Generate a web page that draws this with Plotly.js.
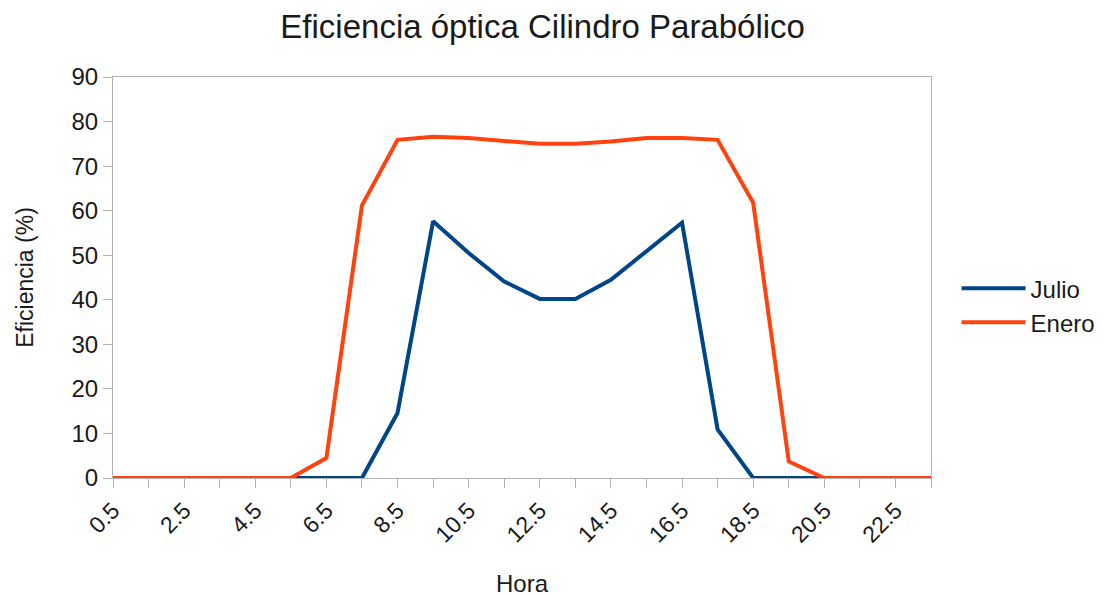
<!DOCTYPE html>
<html>
<head>
<meta charset="utf-8">
<script src="https://cdn.plot.ly/plotly-3.0.1.min.js"></script>
<style>html,body{margin:0;padding:0;background:#fff;}#chart{width:1112px;height:597px;}</style>
</head>
<body>
<div id="chart"></div>
<script>
const hours = ['0.5','1.5','2.5','3.5','4.5','5.5','6.5','7.5','8.5','9.5','10.5','11.5','12.5','13.5','14.5','15.5','16.5','17.5','18.5','19.5','20.5','21.5','22.5','23.5'];
const julio = [0,0,0,0,0,0,0,0,14.6,57.6,50.5,44.1,40.2,40.2,44.5,50.9,57.3,10.9,0,0,0,0,0,0];
const enero = [0,0,0,0,0,0,4.5,61.2,75.9,76.6,76.3,75.7,75.0,75.0,75.5,76.3,76.3,75.9,61.8,3.7,0,0,0,0];
const tickLabels = ['0.5','','2.5','','4.5','','6.5','','8.5','','10.5','','12.5','','14.5','','16.5','','18.5','','20.5','','22.5',''];

const font = 'Liberation Sans, Arial, sans-serif';
const txt = '#1a1a1a';
const traces = [
  {x: hours, y: julio, name: 'Julio', type: 'scatter', mode: 'lines', line: {color: '#004586', width: 4}},
  {x: hours, y: enero, name: 'Enero', type: 'scatter', mode: 'lines', line: {color: '#ff420e', width: 4}}
];
const layout = {
  width: 1112, height: 597,
  paper_bgcolor: '#ffffff', plot_bgcolor: '#ffffff',
  margin: {l: 113, r: 180, t: 77, b: 119},
  font: {family: font, color: txt, size: 23},
  title: {text: 'Eficiencia óptica Cilindro Parabólico', font: {family: font, size: 33, color: txt}, x: 0.488, xanchor: 'center', y: 0.956, yanchor: 'middle'},
  showlegend: true,
  legend: {x: 1.03, xanchor: 'left', y: 0.43, yanchor: 'middle', font: {family: font, size: 24, color: txt}, itemwidth: 64, bgcolor: 'rgba(0,0,0,0)'},
  xaxis: {
    type: 'category', range: [0, 23],
    tickvals: hours, ticktext: tickLabels, tickangle: -45,
    ticks: 'outside', ticklen: 9, tickcolor: '#b3b3b3',
    showline: true, linecolor: '#b3b3b3', linewidth: 1, mirror: true,
    showgrid: false, zeroline: false,
    tickfont: {family: font, size: 23, color: txt},
    title: {text: 'Hora', font: {family: font, size: 24, color: txt}, standoff: 29}
  },
  yaxis: {
    range: [0, 90], dtick: 10,
    ticks: 'outside', ticklen: 9, tickcolor: '#b3b3b3',
    showline: true, linecolor: '#b3b3b3', linewidth: 1, mirror: true,
    showgrid: false, zeroline: false,
    tickfont: {family: font, size: 24, color: txt},
    title: {text: 'Eficiencia (%)', font: {family: font, size: 23, color: txt}, standoff: 31}
  }
};
Plotly.newPlot('chart', traces, layout, {displayModeBar: false, staticPlot: true});
</script>
</body>
</html>
